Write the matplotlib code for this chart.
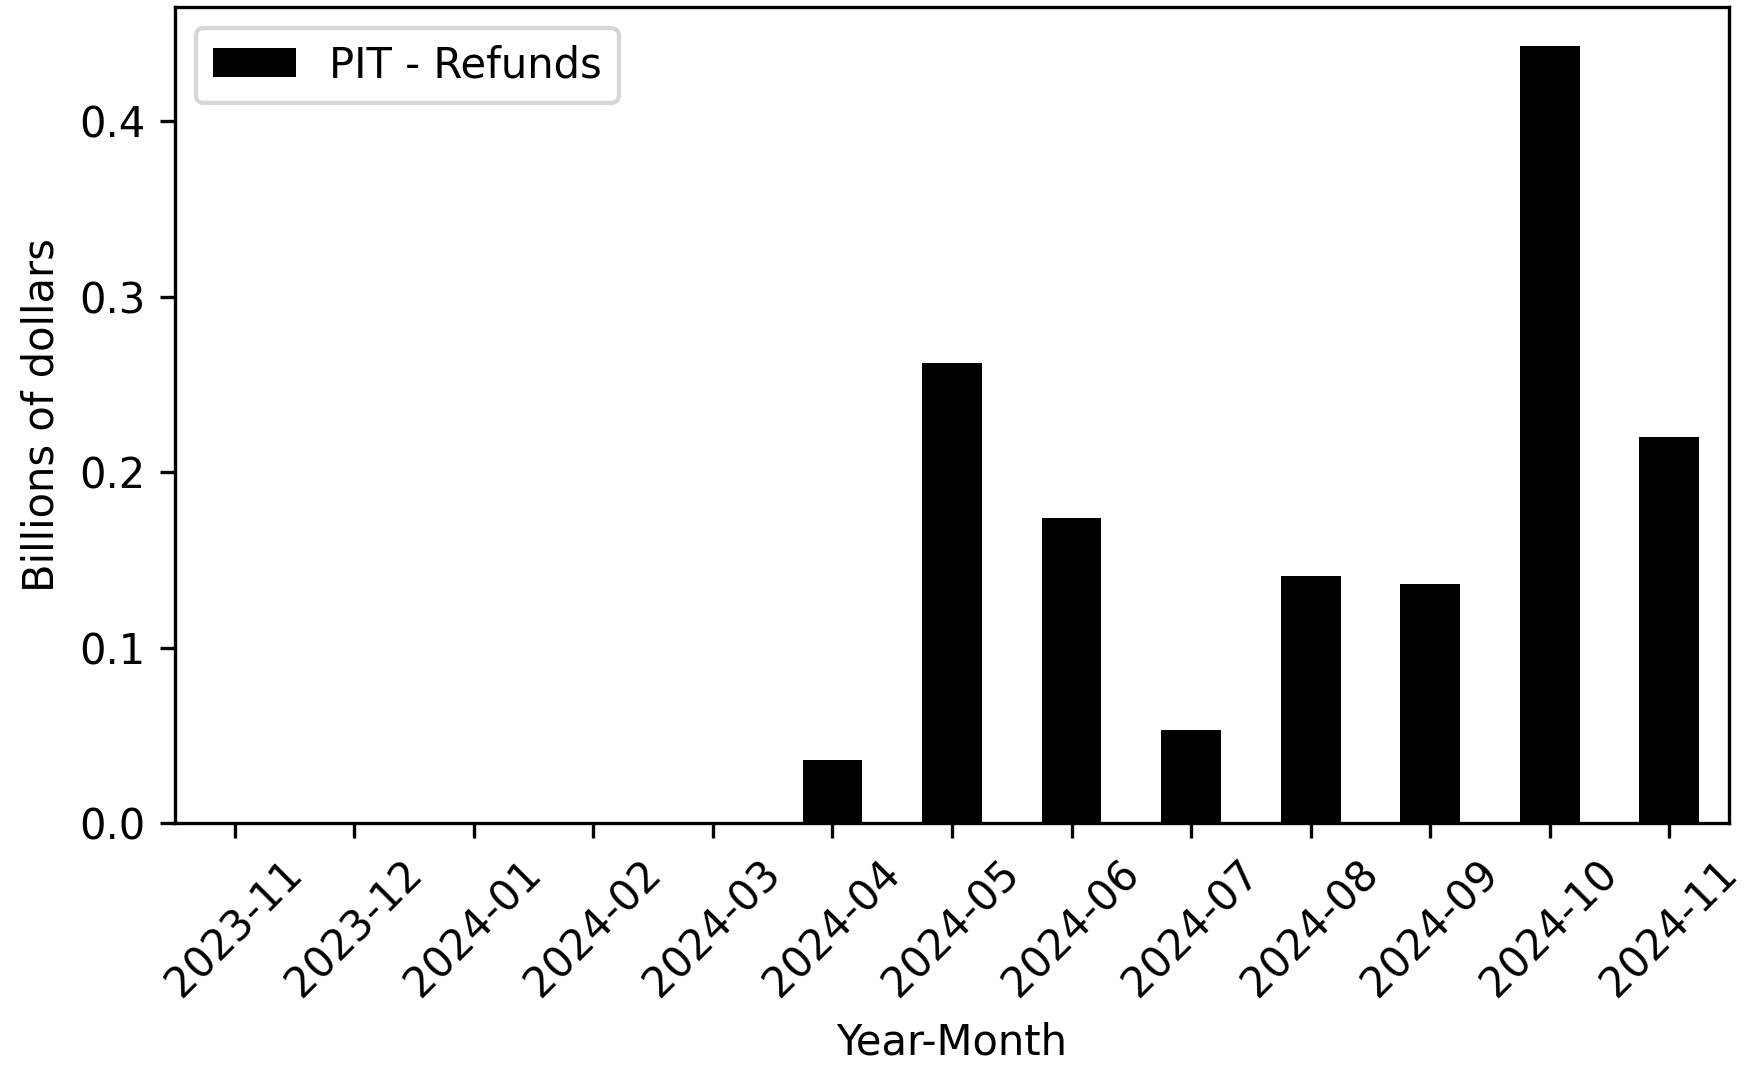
import matplotlib
matplotlib.use("Agg")
import matplotlib.pyplot as plt
import numpy as np

months = ["2023-11", "2023-12", "2024-01", "2024-02", "2024-03", "2024-04",
          "2024-05", "2024-06", "2024-07", "2024-08", "2024-09", "2024-10", "2024-11"]
refunds = [0.0, 0.0, 0.0, 0.0, 0.0, 0.0357, 0.262, 0.174, 0.053, 0.141, 0.136, 0.443, 0.220]

DPI = 300
fig = plt.figure(figsize=(1747 / DPI, 1065 / DPI), dpi=DPI)
ax = fig.add_axes([175 / 1747, 1 - 823 / 1065, (1729 - 175) / 1747, (823 - 7) / 1065])

x = np.arange(len(months))
ax.bar(x, refunds, width=0.5, color="black", label="PIT - Refunds")
ax.set_xlim(-0.5, len(months) - 0.5)
ax.set_ylim(0, max(refunds) * 1.05)
ax.set_xticks(x)
ax.set_xticklabels(months, rotation=45)
ax.set_yticks([0.0, 0.1, 0.2, 0.3, 0.4])
ax.set_xlabel("Year-Month")
ax.set_ylabel("Billions of dollars")
ax.legend(loc="upper left")

fig.savefig("out.png", dpi=DPI)
